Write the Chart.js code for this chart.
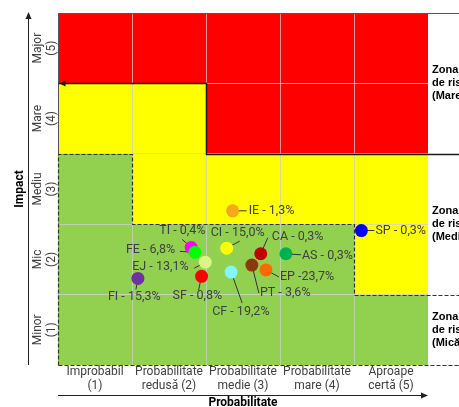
<!DOCTYPE html>
<html>
<head>
<meta charset="utf-8">
<script src="https://cdn.jsdelivr.net/npm/chart.js@4"></script>
<style>
  body { margin: 0; background: #fff; }
  canvas { display: block; }
</style>
</head>
<body>
<canvas id="riskChart" width="459" height="407"></canvas>
<script>
// axis categories
const probLabels = [['Improbabil', '(1)'], ['Probabilitate', 'redusă (2)'], ['Probabilitate', 'medie (3)'], ['Probabilitate', 'mare (4)'], ['Aproape', 'certă (5)']];
const impactLabels = [['Minor', '(1)'], ['Mic', '(2)'], ['Mediu', '(3)'], ['Mare', '(4)'], ['Major', '(5)']];

// risk matrix: per probability column, highest "green" impact row and lowest "red" impact row
const greenTop = [3, 2, 2, 2, 1];
const redBottom = [5, 5, 4, 4, 4];

// zone captions on the right (impact range covered)
const zoneNames = [['Zona', 'de risc', '(Mare)'], ['Zona', 'de risc', '(Mediu)'], ['Zona', 'de risc', '(Mică)']];
const zoneFrom = [3.5, 1.5, 0.5];
const zoneTo = [5.5, 3.5, 1.5];

// risks
const riskLabels = ['FI - 15,3%', 'TI - 0,4%', 'FE - 6,8%', 'EJ - 13,1%', 'SF - 0,8%', 'CI - 15,0%', 'CF - 19,2%', 'IE - 1,3%', 'PT - 3,6%', 'CA - 0,3%', 'EP -23,7%', 'AS - 0,3%', 'SP - 0,3%'];
const riskProb = [1.58, 2.30, 2.35, 2.49, 2.44, 2.78, 2.84, 2.86, 3.12, 3.24, 3.31, 3.58, 4.60];
const riskImpact = [1.73, 2.17, 2.10, 1.96, 1.76, 2.16, 1.82, 2.69, 1.92, 2.08, 1.85, 2.08, 2.41];

// styling
const riskColors = ['#7030a0', '#ff00ff', '#00ff00', '#d8f585', '#ff0000', '#ffff00', '#80f6ff', '#f4a81d', '#8b3a0f', '#c00000', '#ff6a00', '#00b050', '#0000ff'];
// [text dx, text dy, leader dx, leader dy] in px from the point
const labelPos = [
  [-30, 18, -2, 11],
  [-32, -17, -9, -8],
  [-69, -2, -15, -1],
  [-73, 5, -11, 6],
  [-29, 20, -3, 14],
  [-16, -15, 13, -7],
  [-19, 40, 11, 31],
  [16, 0, 14, 0],
  [8, 28, 7, 28],
  [11, -17, 7, -16],
  [14, 7, 13, 7],
  [16, 2, 15, 1],
  [14, 0, 13, 0]
];

const ZONE_COLORS = { red: '#ff0000', yellow: '#ffff00', green: '#92d050' };
const TEXT = '#404040';
const LABEL_FONT = '12.5px Roboto';

function arrowHead(ctx, x, y, dir) {
  ctx.beginPath();
  if (dir === 'up') { ctx.moveTo(x, y); ctx.lineTo(x - 3, y + 7); ctx.lineTo(x + 3, y + 7); }
  if (dir === 'right') { ctx.moveTo(x, y); ctx.lineTo(x - 7, y - 3); ctx.lineTo(x - 7, y + 3); }
  if (dir === 'left') { ctx.moveTo(x, y); ctx.lineTo(x + 6, y - 3); ctx.lineTo(x + 6, y + 3); }
  ctx.closePath();
  ctx.fill();
}

const matrixPlugin = {
  id: 'matrix',
  beforeDraw(chart) {
    const ctx = chart.ctx, xs = chart.scales.x, ys = chart.scales.y;
    ctx.save();
    for (let i = 0; i < 5; i++) {
      for (let j = 1; j <= 5; j++) {
        let c = ZONE_COLORS.yellow;
        if (j >= redBottom[i]) c = ZONE_COLORS.red;
        else if (j <= greenTop[i]) c = ZONE_COLORS.green;
        const x0 = xs.getPixelForValue(i + 0.5), x1 = xs.getPixelForValue(i + 1.5);
        const y0 = ys.getPixelForValue(j + 0.5), y1 = ys.getPixelForValue(j - 0.5);
        ctx.fillStyle = c;
        ctx.fillRect(x0, y0, x1 - x0, y1 - y0);
      }
    }
    ctx.restore();
  },
  beforeDatasetsDraw(chart) {
    const ctx = chart.ctx, xs = chart.scales.x, ys = chart.scales.y;
    const W = chart.width;
    const left = xs.getPixelForValue(0.5);
    const px = v => Math.round(xs.getPixelForValue(v)) + 0.5;
    const py = v => Math.round(ys.getPixelForValue(v)) + 0.5;
    ctx.save();

    // top and left border of red/yellow part
    ctx.strokeStyle = '#555';
    ctx.lineWidth = 1;
    ctx.beginPath();
    ctx.moveTo(W, py(5.5));
    ctx.lineTo(px(0.5), py(5.5));
    ctx.lineTo(px(0.5), py(greenTop[0] + 0.5));
    ctx.stroke();

    // red zone boundary (solid)
    ctx.strokeStyle = '#1a1a1a';
    ctx.lineWidth = 1.5;
    ctx.beginPath();
    ctx.moveTo(px(0.5), py(redBottom[0] - 0.5));
    for (let i = 0; i < 5; i++) {
      ctx.lineTo(px(i + 1.5), py(redBottom[i] - 0.5));
      if (i < 4 && redBottom[i + 1] !== redBottom[i]) ctx.lineTo(px(i + 1.5), py(redBottom[i + 1] - 0.5));
    }
    ctx.lineTo(W, py(redBottom[4] - 0.5));
    ctx.stroke();
    ctx.fillStyle = '#1a1a1a';
    arrowHead(ctx, px(0.5) + 1, py(redBottom[0] - 0.5), 'left');

    // green zone boundary (dashed)
    ctx.strokeStyle = '#333';
    ctx.lineWidth = 1.2;
    ctx.setLineDash([4, 2]);
    ctx.beginPath();
    ctx.moveTo(px(0.5), py(0.5));
    ctx.lineTo(px(0.5), py(greenTop[0] + 0.5));
    for (let i = 0; i < 5; i++) {
      ctx.lineTo(px(i + 1.5), py(greenTop[i] + 0.5));
      if (i < 4 && greenTop[i + 1] !== greenTop[i]) ctx.lineTo(px(i + 1.5), py(greenTop[i + 1] + 0.5));
    }
    ctx.lineTo(W, py(greenTop[4] + 0.5));
    ctx.moveTo(px(0.5), py(0.5));
    ctx.lineTo(W, py(0.5));
    ctx.stroke();
    ctx.setLineDash([]);

    // axis arrows
    ctx.strokeStyle = '#222';
    ctx.fillStyle = '#222';
    ctx.lineWidth = 1;
    ctx.beginPath();
    ctx.moveTo(28.5, ys.getPixelForValue(0.5));
    ctx.lineTo(28.5, ys.getPixelForValue(5.5) + 4);
    ctx.stroke();
    arrowHead(ctx, 28.5, ys.getPixelForValue(5.5) - 1, 'up');
    ctx.beginPath();
    ctx.moveTo(left, 395.5);
    ctx.lineTo(xs.getPixelForValue(5.5) - 4, 395.5);
    ctx.stroke();
    arrowHead(ctx, xs.getPixelForValue(5.5), 395.5, 'right');

    // y tick labels (rotated, two lines)
    ctx.fillStyle = TEXT;
    ctx.font = '12px Roboto';
    ctx.textAlign = 'center';
    ctx.textBaseline = 'middle';
    impactLabels.forEach((lines, k) => {
      ctx.save();
      ctx.translate(45, ys.getPixelForValue(k + 1));
      ctx.rotate(-Math.PI / 2);
      ctx.fillText(lines[0], 0, -7);
      ctx.fillText(lines[1], 0, 7);
      ctx.restore();
    });

    // axis titles
    ctx.fillStyle = '#000';
    ctx.font = 'bold 12px Roboto';
    ctx.save();
    ctx.translate(20, (ys.top + ys.bottom) / 2);
    ctx.rotate(-Math.PI / 2);
    ctx.fillText('Impact', 0, 0);
    ctx.restore();
    ctx.fillText('Probabilitate', (xs.left + xs.right) / 2, 403);

    // zone captions
    ctx.font = 'bold 11px "Liberation Sans"';
    ctx.textAlign = 'left';
    zoneNames.forEach((lines, k) => {
      const mid = ys.getPixelForValue((zoneFrom[k] + zoneTo[k]) / 2);
      lines.forEach((t, n) => ctx.fillText(t, 432, mid + (n - 1) * 13));
    });

    // leader lines
    const meta = chart.getDatasetMeta(0);
    ctx.strokeStyle = '#333';
    ctx.lineWidth = 1;
    meta.data.forEach((pt, k) => {
      ctx.beginPath();
      ctx.moveTo(pt.x, pt.y);
      ctx.lineTo(pt.x + labelPos[k][2], pt.y + labelPos[k][3]);
      ctx.stroke();
    });
    ctx.restore();
  },
  afterDatasetsDraw(chart) {
    const ctx = chart.ctx;
    const meta = chart.getDatasetMeta(0);
    ctx.save();
    ctx.fillStyle = TEXT;
    ctx.font = LABEL_FONT;
    ctx.textAlign = 'left';
    ctx.textBaseline = 'middle';
    meta.data.forEach((pt, k) => {
      ctx.fillText(riskLabels[k], pt.x + labelPos[k][0], pt.y + labelPos[k][1]);
    });
    ctx.restore();
  }
};

const halfGrid = c => {
  const v = c.tick ? c.tick.value : 0;
  return (v % 1 !== 0 && v > 0.5 && v < 5.5) ? 'rgba(205,205,205,0.75)' : 'rgba(0,0,0,0)';
};

new Chart(document.getElementById('riskChart'), {
  type: 'scatter',
  data: {
    datasets: [{
      data: riskProb.map((p, k) => ({ x: p, y: riskImpact[k] })),
      backgroundColor: riskColors,
      borderColor: riskColors,
      borderWidth: 0,
      pointRadius: 6.5,
      pointHoverRadius: 6.5
    }]
  },
  plugins: [matrixPlugin],
  options: {
    responsive: false,
    devicePixelRatio: 1,
    animation: false,
    events: [],
    layout: { padding: { top: 13, right: 31, left: 0, bottom: 0 } },
    plugins: { legend: { display: false }, tooltip: { enabled: false } },
    scales: {
      x: {
        type: 'linear',
        min: 0.5,
        max: 5.5,
        border: { display: false },
        grid: { color: halfGrid, lineWidth: 1, drawTicks: false },
        ticks: {
          stepSize: 0.5,
          autoSkip: false,
          maxRotation: 0,
          padding: 0,
          color: TEXT,
          font: { family: 'Roboto', size: 12, lineHeight: 1.15 },
          callback: v => Number.isInteger(v) ? probLabels[v - 1] : ''
        },
        afterFit: s => { s.height = 42; }
      },
      y: {
        type: 'linear',
        min: 0.5,
        max: 5.5,
        border: { display: false },
        grid: { color: halfGrid, lineWidth: 1, drawTicks: false },
        ticks: { stepSize: 0.5, display: false },
        afterFit: s => { s.width = 58; }
      }
    }
  }
});
</script>
</body>
</html>
